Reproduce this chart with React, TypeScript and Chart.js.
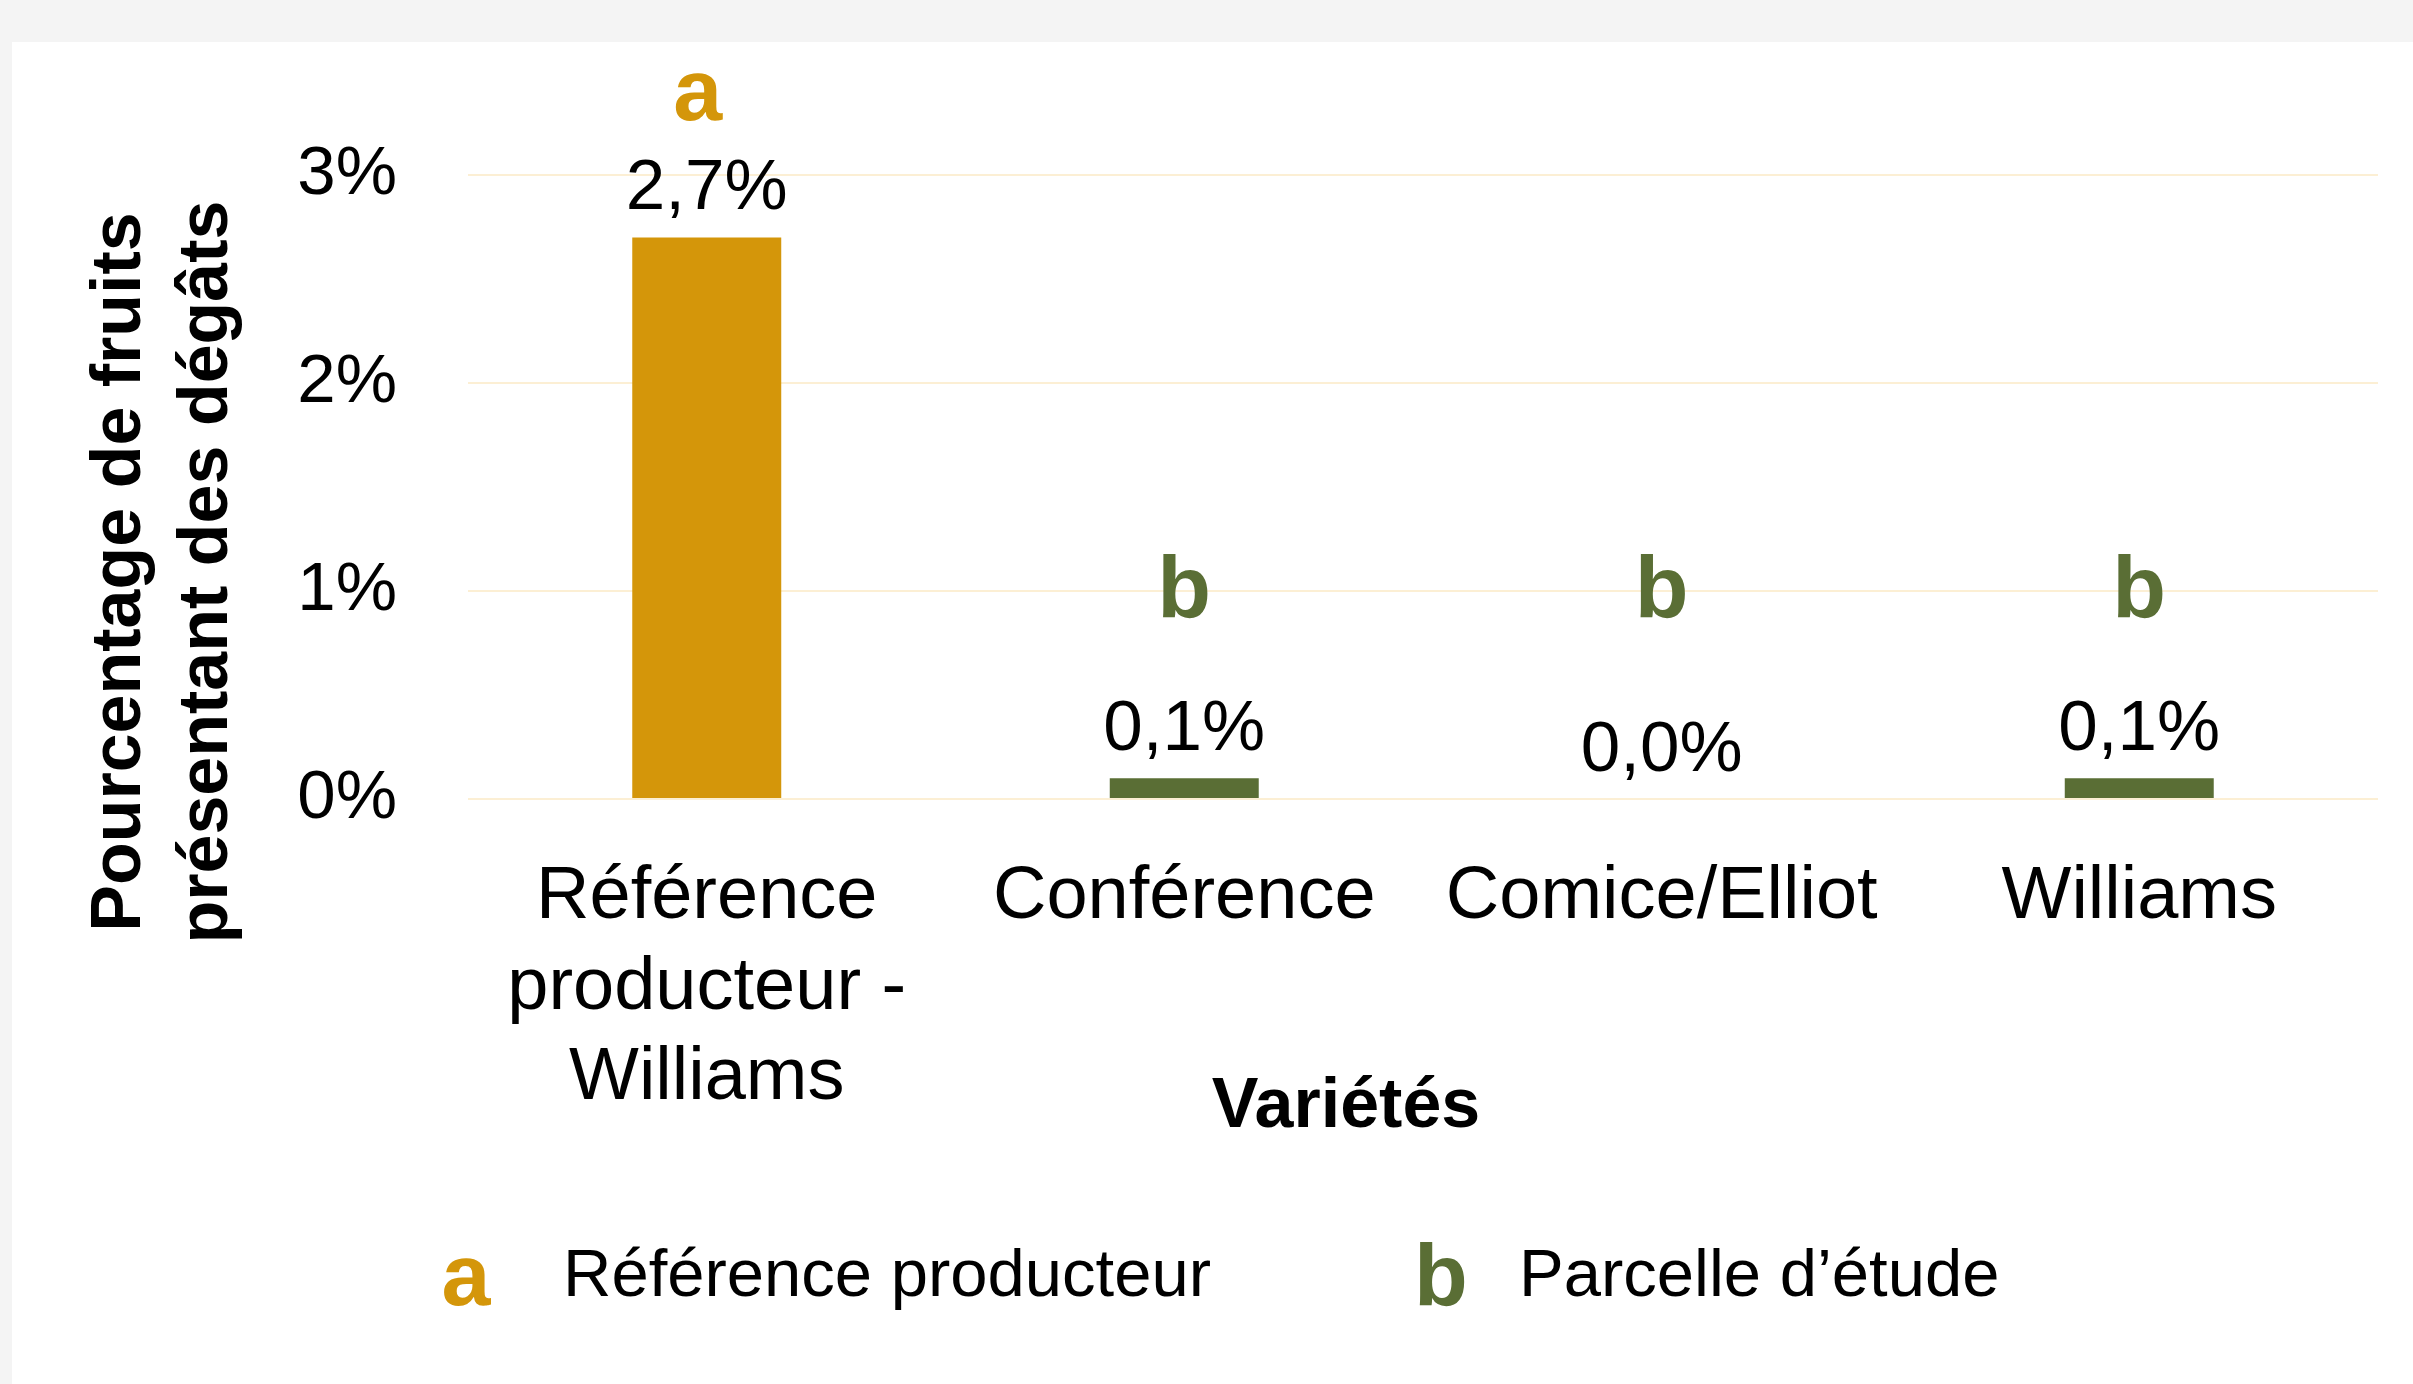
import { useEffect, useRef } from "react";
import { Chart, registerables } from "chart.js";

Chart.register(...registerables);

const FONT = "'Liberation Sans', Arial, sans-serif";

const categories: (string | string[])[] = [
  ["Référence", "producteur -", "Williams"],
  "Conférence",
  "Comice/Elliot",
  "Williams",
];
const values = [2.7, 0.1, 0.0, 0.1];
const groupLetters = ["a", "b", "b", "b"];
const yTickValues = [0, 1, 2, 3];
const yTitleLines = ["Pourcentage de fruits", "présentant des dégâts"];
const xTitle = "Variétés";
const legendLetters = ["a", "b"];
const legendLabels = ["Référence producteur", "Parcelle d’étude"];

const GOLD = "#D4960A";
const GREEN = "#5A6E35";
const letterColor = (l: string) => (l === "a" ? GOLD : GREEN);
const fmt = (v: number) => v.toFixed(1).replace(".", ",") + "%";

const overlayPlugin = {
  id: "overlay",
  afterDatasetsDraw(chart: any) {
    const ctx: CanvasRenderingContext2D = chart.ctx;
    const meta = chart.getDatasetMeta(0);
    const yScale = chart.scales.y;
    const area = chart.chartArea;
    ctx.save();
    ctx.textAlign = "center";
    ctx.textBaseline = "alphabetic";
    meta.data.forEach((bar: any, i: number) => {
      const p = bar.getProps(["x", "y"], true);
      const labelBase = p.y - 28;
      ctx.font = `71px ${FONT}`;
      ctx.fillStyle = "#000";
      ctx.fillText(fmt(values[i]), p.x, labelBase);
      const letter = groupLetters[i];
      const letterBase =
        letter === "a" ? labelBase - 89 : yScale.getPixelForValue(1) + 26;
      ctx.font = `bold 88px ${FONT}`;
      ctx.fillStyle = letterColor(letter);
      ctx.fillText(letter, p.x - (letter === "a" ? 9 : 0), letterBase);
    });

    // y axis title (two lines, rotated)
    ctx.font = `bold 70px ${FONT}`;
    ctx.fillStyle = "#000";
    const yCenter = area.top + (area.bottom - area.top) / 2 + 85;
    const baselines = [area.left - 328, area.left - 241];
    yTitleLines.forEach((line, i) => {
      ctx.save();
      ctx.translate(baselines[i], yCenter);
      ctx.rotate(-Math.PI / 2);
      ctx.textAlign = "center";
      ctx.textBaseline = "alphabetic";
      ctx.fillText(line, 0, 0);
      ctx.restore();
    });

    // x axis title
    ctx.font = `bold 70px ${FONT}`;
    ctx.textAlign = "center";
    ctx.fillText(xTitle, area.left + 878, 1085);

    // legend
    const markerX = [454, 1429];
    const textX = [551, 1507];
    legendLetters.forEach((l, i) => {
      ctx.font = `bold 88px ${FONT}`;
      ctx.fillStyle = letterColor(l);
      ctx.textAlign = "center";
      ctx.fillText(l, markerX[i], 1263);
      ctx.font = `67px ${FONT}`;
      ctx.fillStyle = "#000";
      ctx.textAlign = "left";
      ctx.fillText(legendLabels[i], textX[i], 1254);
    });
    ctx.restore();
  },
};

export default function App() {
  const ref = useRef<HTMLCanvasElement | null>(null);

  useEffect(() => {
    document.body.style.margin = "0";
    document.body.style.background = "#f4f4f4";
    document.body.style.overflow = "hidden";
    if (!ref.current) return;
    const chart = new Chart(ref.current, {
      type: "bar",
      data: {
        labels: categories as any,
        datasets: [
          {
            data: values,
            backgroundColor: groupLetters.map(letterColor),
            borderWidth: 0,
            categoryPercentage: 1,
            barPercentage: 0.312,
          },
        ],
      },
      options: {
        responsive: false,
        animation: false,
        layout: { padding: { left: 284, right: 35, top: 133, bottom: 255 } },
        plugins: {
          legend: { display: false },
          tooltip: { enabled: false },
          title: { display: false },
        },
        scales: {
          x: {
            grid: { display: false, drawTicks: false },
            border: { display: false },
            ticks: {
              color: "#000",
              padding: 53,
              maxRotation: 0,
              autoSkip: false,
              font: { family: FONT, size: 74, lineHeight: 1.227 },
            },
            afterFit: (s: any) => {
              s.height = 330;
            },
          },
          y: {
            min: 0,
            max: 3,
            afterBuildTicks: (s: any) => {
              s.ticks = yTickValues.map((v) => ({ value: v }));
            },
            grid: { color: "#fcefd4", lineWidth: 2, drawTicks: false },
            border: { display: false },
            ticks: {
              color: "#000",
              padding: 71,
              font: { family: FONT, size: 69 },
              callback: (v: any) => `${v}%`,
            },
            afterFit: (s: any) => {
              s.width = 172;
            },
          },
        },
      },
      plugins: [overlayPlugin],
    });
    return () => chart.destroy();
  }, []);

  return (
    <div
      style={{
        position: "absolute",
        left: 12,
        top: 42,
        width: 2401,
        height: 1342,
        background: "#ffffff",
      }}
    >
      <canvas ref={ref} width={2401} height={1342} style={{ display: "block" }} />
    </div>
  );
}
